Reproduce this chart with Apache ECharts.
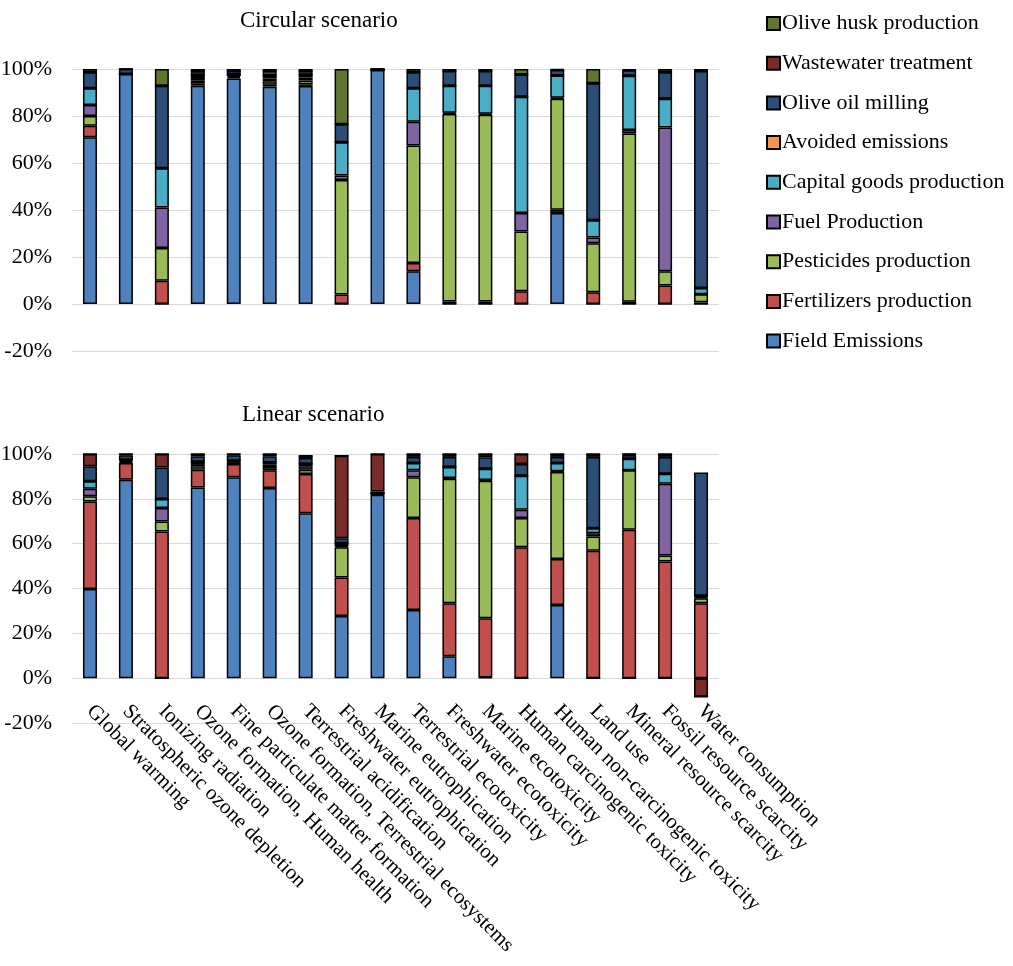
<!DOCTYPE html>
<html>
<head>
<meta charset="utf-8">
<script src="https://cdn.jsdelivr.net/npm/echarts@6/dist/echarts.min.js"></script>
<style>
  html, body { margin: 0; padding: 0; background: #fff; }
  #chart { width: 1013px; height: 966px; }
</style>
</head>
<body>
<div id="chart"></div>
<script>
// impact categories (x axis)
var categories = ['Global warming', 'Stratospheric ozone depletion', 'Ionizing radiation',
    'Ozone formation, Human health', 'Fine particulate matter formation',
    'Ozone formation, Terrestrial ecosystems', 'Terrestrial acidification',
    'Freshwater eutrophication', 'Marine eutrophication', 'Terrestrial ecotoxicity',
    'Freshwater ecotoxicity', 'Marine ecotoxicity', 'Human carcinogenic toxicity',
    'Human non-carcinogenic toxicity', 'Land use', 'Mineral resource scarcity',
    'Fossil resource scarcity', 'Water consumption'];

// stack order, bottom to top
var seriesNames = ['Field Emissions', 'Fertilizers production', 'Pesticides production',
    'Fuel Production', 'Capital goods production', 'Avoided emissions',
    'Olive oil milling', 'Wastewater treatment', 'Olive husk production'];
var seriesColors = ['#4f81bd', '#c0504d', '#9bbb59', '#8064a2', '#4bacc6', '#f79646',
    '#2c4d75', '#772c2a', '#5f7530'];

var yTicks = [-20, 0, 20, 40, 60, 80, 100];

// Circular scenario (%)
var circField   = [71.0, 97.9, 0, 92.9, 96.0, 92.5, 92.8, 0, 99.6, 13.9, 0, 0, 0, 38.7, 0, 0, 0, 0];
var circFert    = [4.8, 0, 9.9, 0.8, 0.6, 0.8, 0.7, 4.0, 0, 3.5, 1.1, 1.1, 5.4, 1.4, 5.0, 1.0, 7.9, 0.7];
var circPest    = [4.2, 0, 13.9, 1.3, 0.6, 1.5, 1.6, 48.8, 0, 50.0, 79.8, 79.4, 25.5, 47.2, 20.9, 71.6, 6.0, 3.5];
var circFuel    = [4.7, 0, 17.3, 1.2, 0, 1.2, 1.3, 1.9, 0, 10.2, 0.5, 0.5, 7.8, 0.5, 2.4, 1.4, 61.2, 0];
var circCapital = [7.1, 0, 16.7, 1.3, 0.5, 1.2, 1.2, 14.1, 0, 14.2, 11.5, 11.9, 49.5, 9.4, 7.3, 23.1, 12.2, 2.6];
var circAvoided = [0, 0, 0, 0, 0, 0, 0, 0, 0, 0, 0, 0, 0, 0, 0, 0, 0, 0];
var circMilling = [6.8, 2.1, 35.1, 1.5, 1.5, 2.0, 1.6, 7.7, 0.4, 6.8, 6.3, 6.3, 9.5, 2.4, 58.3, 2.4, 11.3, 92.4];
var circWaste   = [0, 0, 0, 0, 0, 0, 0, 0, 0, 0, 0, 0, 0, 0, 0, 0, 0, 0];
var circHusk    = [1.4, 0, 7.1, 1.0, 0.8, 0.8, 0.8, 23.5, 0, 1.4, 0.8, 0.8, 2.3, 0.4, 6.1, 0.4, 1.4, 0.8];

// Linear scenario (%)
var linField   = [39.8, 88.5, 0, 85.1, 89.6, 84.8, 73.6, 27.7, 81.8, 30.4, 9.8, 0.3, 0, 32.6, 0, 0, 0, 0];
var linFert    = [39.0, 7.5, 65.4, 7.9, 5.9, 7.9, 17.5, 17.2, 0.6, 41.0, 23.6, 26.4, 58.4, 20.6, 56.8, 66.2, 52.0, 33.4];
var linPest    = [2.3, 0.5, 4.5, 1.5, 0.8, 1.5, 1.9, 13.5, 0, 18.2, 55.6, 61.4, 13.0, 38.8, 6.4, 26.5, 2.7, 2.2];
var linFuel    = [3.4, 0.4, 6.0, 1.0, 0.3, 1.0, 1.5, 0.5, 0, 3.1, 0.3, 0.3, 3.7, 0.3, 1.5, 0, 32.0, 0.5];
var linCapital = [3.3, 0.5, 4.0, 1.0, 0.4, 1.0, 1.2, 1.3, 0, 3.3, 4.9, 5.0, 15.2, 3.7, 2.2, 5.2, 4.5, 0.7];
var linAvoided = [0, 0, 0, 0, 0, 0, 0, 0, 0, 0, 0, 0, 0, 0, 0, 0, 0, 0];
var linMilling = [6.7, 2.0, 14.1, 2.5, 2.4, 2.8, 2.5, 2.2, 0.9, 2.7, 4.5, 5.1, 5.2, 2.7, 31.8, 1.6, 7.5, 55.0];
var linWaste   = [5.5, 0.6, 6.0, 1.0, 0.6, 1.0, 1.0, 36.8, 16.7, 1.3, 1.3, 1.5, 4.5, 1.3, 1.3, 0.5, 1.3, -8.3];
var linHusk    = [0, 0, 0, 0, 0, 0, 0, 0, 0, 0, 0, 0, 0, 0, 0, 0, 0, 0];

var circData = [circField, circFert, circPest, circFuel, circCapital, circAvoided, circMilling, circWaste, circHusk];
var linData = [linField, linFert, linPest, linFuel, linCapital, linAvoided, linMilling, linWaste, linHusk];

var font = 'Liberation Serif';

function makeSeries(data, idx, stackName) {
    return data.map(function(vals, i) {
        return {
            name: seriesNames[i],
            type: 'bar',
            stack: stackName,
            xAxisIndex: idx,
            yAxisIndex: idx,
            barWidth: 14,
            data: vals,
            itemStyle: {
                color: seriesColors[i],
                borderColor: '#000',
                borderWidth: 1.5
            },
            emphasis: { disabled: true }
        };
    });
}

function yAxisOpt(idx) {
    return {
        type: 'value',
        gridIndex: idx,
        min: yTicks[0],
        max: yTicks[yTicks.length - 1],
        interval: 20,
        axisLine: { show: false },
        axisTick: { show: false },
        axisLabel: {
            formatter: '{value}%',
            fontFamily: font,
            fontSize: 22,
            color: '#000',
            margin: 20
        },
        splitLine: { lineStyle: { color: '#d9d9d9', width: 1 } }
    };
}

var myChart = echarts.init(document.getElementById('chart'));
var option = {
    animation: false,
    title: [{
        text: 'Circular scenario',
        left: 235,
        top: 4,
        textStyle: { fontFamily: font, fontWeight: 'normal', fontSize: 23, color: '#000' }
    }, {
        text: 'Linear scenario',
        left: 237,
        top: 398,
        textStyle: { fontFamily: font, fontWeight: 'normal', fontSize: 23, color: '#000' }
    }],
    legend: {
        orient: 'vertical',
        left: 761,
        top: 7.5,
        itemWidth: 13,
        itemHeight: 13,
        itemGap: 17.7,
        icon: 'rect',
        data: seriesNames.slice().reverse(),
        textStyle: { fontFamily: font, fontSize: 22, color: '#000', lineHeight: 22, padding: [0, 0, 0, -3] }
    },
    grid: [
        { left: 72, right: 294, top: 69, height: 282, outerBoundsMode: 'none' },
        { left: 72, right: 294, top: 454, height: 269, outerBoundsMode: 'none' }
    ],
    xAxis: [{
        type: 'category',
        gridIndex: 0,
        data: categories,
        axisLine: { show: false, onZero: false },
        axisTick: { show: false },
        axisLabel: { show: false }
    }, {
        type: 'category',
        gridIndex: 1,
        data: categories,
        axisLine: { show: false, onZero: false },
        axisTick: { show: false },
        axisLabel: {
            rotate: -45,
            interval: 0,
            margin: -15,
            padding: [0, 0, 24, 0],
            fontFamily: font,
            fontSize: 21,
            color: '#000'
        }
    }],
    yAxis: [yAxisOpt(0), yAxisOpt(1)],
    series: makeSeries(circData, 0, 'circ').concat(makeSeries(linData, 1, 'lin'))
};
myChart.setOption(option);
</script>
</body>
</html>
